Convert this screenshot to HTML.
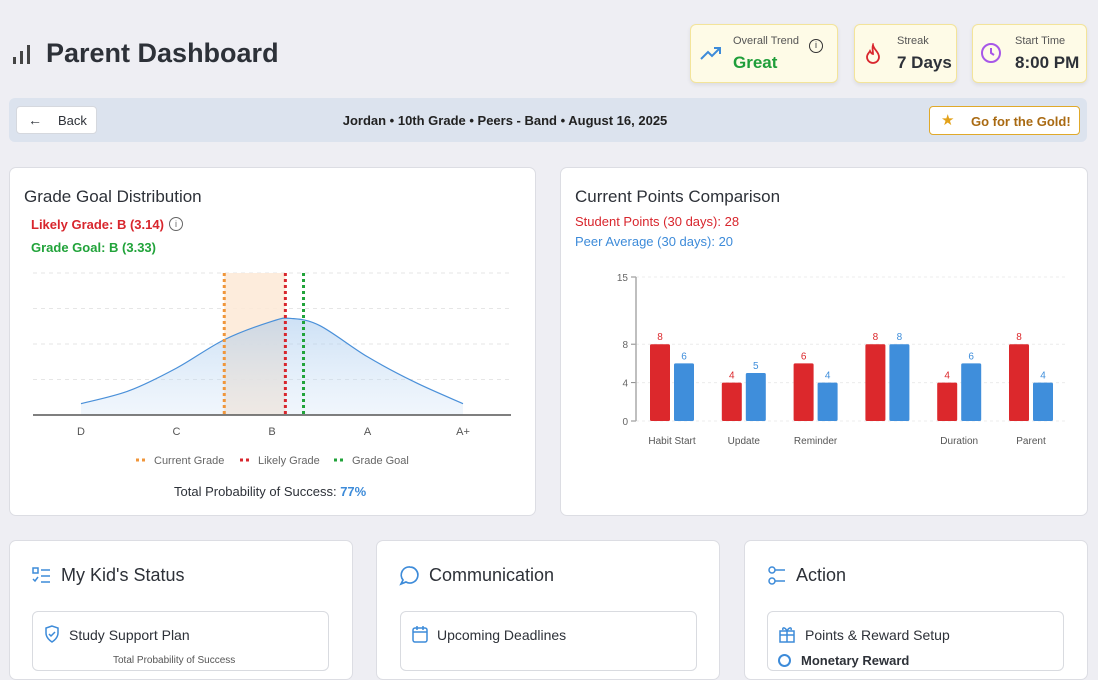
<!DOCTYPE html>
<html><head><meta charset="utf-8">
<style>
*{box-sizing:border-box;margin:0;padding:0}
body{width:1098px;height:661px;overflow:hidden;background:#eeeef3;font-family:"Liberation Sans",sans-serif;color:#2d3138;position:relative}
.abs{position:absolute}
.stat{position:absolute;top:24px;height:59px;background:#fefbe7;border:1px solid #f3e49a;border-radius:6px;box-shadow:0 2px 4px rgba(0,0,0,.08)}
.stat .lbl{position:absolute;font-size:11px;color:#555;top:10px}
.stat .val{position:absolute;font-size:17px;font-weight:bold;top:28px}
.card{position:absolute;background:#fff;border:1px solid #dcdde3;border-radius:7px}
.btn{position:absolute;background:#fff;border:1px solid #d5d8de;border-radius:4px;font-size:13px}
.h2{position:absolute;font-size:17px;color:#2d3138}
.h3{position:absolute;font-size:18px;color:#2d3138}
.inner{position:absolute;background:#fff;border:1px solid #d9dbe0;border-radius:6px;height:60px}
.h4{position:absolute;font-size:14px;color:#2d3138}
</style></head><body>
<div class="abs" style="left:13px;top:45px;width:20px;height:20px">
 <div class="abs" style="left:0;top:12px;width:3px;height:7px;background:#444"></div>
 <div class="abs" style="left:7px;top:6px;width:3px;height:13px;background:#444"></div>
 <div class="abs" style="left:14px;top:0;width:3px;height:19px;background:#444"></div>
</div>
<div class="abs" style="left:46px;top:38px;font-size:27px;font-weight:bold;color:#2d3138">Parent Dashboard</div>

<div class="stat" style="left:690px;width:148px">
 <svg class="abs" style="left:9px;top:20px" width="22" height="16" viewBox="0 0 22 16"><polyline points="1,14 8,7 12,11 20,3" fill="none" stroke="#3d8bd9" stroke-width="2"/><polyline points="14,3 20,3 20,9" fill="none" stroke="#3d8bd9" stroke-width="2"/></svg>
 <div class="lbl" style="left:42px">Overall Trend</div>
 <div class="val" style="left:42px;color:#1f9e3a">Great</div>
 <div class="abs" style="left:118px;top:14px;width:14px;height:14px;border:1.5px solid #333;border-radius:50%;font-size:9px;text-align:center;line-height:11px">i</div>
</div>
<div class="stat" style="left:854px;width:103px">
 <svg class="abs" style="left:9px;top:18px" width="18" height="22" viewBox="0 0 18 22"><path d="M9 2C10 7 15 9 15 14a6 6 0 0 1-12 0c0-3 2-4 3-6 1 2 2 3 3 3 0-3-1-6 0-9z" fill="none" stroke="#d9272e" stroke-width="1.8"/></svg>
 <div class="lbl" style="left:42px">Streak</div>
 <div class="val" style="left:42px">7 Days</div>
</div>
<div class="stat" style="left:972px;width:115px">
 <svg class="abs" style="left:7px;top:17px" width="22" height="22" viewBox="0 0 22 22"><circle cx="11" cy="11" r="9" fill="none" stroke="#a757e8" stroke-width="2"/><polyline points="11,6 11,11 14,13" fill="none" stroke="#a757e8" stroke-width="2"/></svg>
 <div class="lbl" style="left:42px">Start Time</div>
 <div class="val" style="left:42px">8:00 PM</div>
</div>

<div class="abs" style="left:9px;top:98px;width:1078px;height:44px;background:#dce3ee;border-radius:6px"></div>
<div class="btn" style="left:16px;top:106px;width:81px;height:28px"><span class="abs" style="left:11px;top:5px;font-size:14px">←</span><span class="abs" style="left:41px;top:6px">Back</span></div>
<div class="abs" style="left:0;width:1010px;top:113px;text-align:center;font-size:13px;font-weight:bold;color:#222">Jordan • 10th Grade • Peers - Band • August 16, 2025</div>
<div class="btn" style="left:929px;top:106px;width:151px;height:29px;border-color:#e0a92a;color:#a96a12"><span class="abs" style="left:11px;top:4px;color:#e3a21a;font-size:15px">★</span><span class="abs" style="left:41px;top:7px;font-weight:bold">Go for the Gold!</span></div>

<div class="card" style="left:9px;top:167px;width:527px;height:349px"></div>
<div class="h2" style="left:24px;top:187px">Grade Goal Distribution</div>
<div class="abs" style="left:31px;top:217px;font-size:13px;font-weight:bold;color:#d8262d">Likely Grade: B (3.14)</div>
<div class="abs" style="left:169px;top:217px;width:14px;height:14px;border:1px solid #666;border-radius:50%;font-size:9px;text-align:center;line-height:12px;color:#666">i</div>
<div class="abs" style="left:31px;top:240px;font-size:13px;font-weight:bold;color:#21a33a">Grade Goal: B (3.33)</div>
<svg class="abs" id="dist" style="left:0;top:0" width="540" height="520"></svg>
<div class="abs" style="left:174px;top:484px;font-size:13px;color:#2d3138">Total Probability of Success: <b style="color:#3d8bd9">77%</b></div>

<div class="card" style="left:560px;top:167px;width:528px;height:349px"></div>
<div class="h2" style="left:575px;top:187px">Current Points Comparison</div>
<div class="abs" style="left:575px;top:214px;font-size:13px;color:#d8262d">Student Points (30 days): 28</div>
<div class="abs" style="left:575px;top:234px;font-size:13px;color:#3d8bd9">Peer Average (30 days): 20</div>
<svg class="abs" id="bars" style="left:560px;top:260px" width="528" height="200"></svg>

<div class="card" style="left:9px;top:540px;width:344px;height:140px"></div>
<svg class="abs" style="left:32px;top:567px" width="20" height="18" viewBox="0 0 20 18"><rect x="1" y="1" width="5" height="5" fill="none" stroke="#3d8bd9" stroke-width="1.5"/><polyline points="1,12 3,14 6,10" fill="none" stroke="#3d8bd9" stroke-width="1.5"/><path d="M9 3h9M9 9h9M9 15h9" stroke="#3d8bd9" stroke-width="1.5"/></svg>
<div class="h3" style="left:61px;top:565px">My Kid's Status</div>
<div class="inner" style="left:32px;top:611px;width:297px"></div>
<svg class="abs" style="left:44px;top:625px" width="16" height="18" viewBox="0 0 16 18"><path d="M8 1L2 3v5c0 4 3 7 6 9 3-2 6-5 6-9V3z" fill="none" stroke="#3d8bd9" stroke-width="1.5"/><polyline points="5,9 7,11 11,7" fill="none" stroke="#3d8bd9" stroke-width="1.5"/></svg>
<div class="h4" style="left:69px;top:627px">Study Support Plan</div>
<div class="abs" style="left:113px;top:655px;font-size:10px;color:#555">Total Probability of Success</div>

<div class="card" style="left:376px;top:540px;width:344px;height:140px"></div>
<svg class="abs" style="left:399px;top:565px" width="22" height="22" viewBox="0 0 22 22"><path d="M11 2a8 8 0 1 1-4 15l-5 2 2-4a8 8 0 0 1 7-13z" fill="none" stroke="#3d8bd9" stroke-width="1.7"/></svg>
<div class="h3" style="left:429px;top:565px">Communication</div>
<div class="inner" style="left:400px;top:611px;width:297px"></div>
<svg class="abs" style="left:412px;top:625px" width="16" height="18" viewBox="0 0 16 18"><rect x="1" y="3" width="14" height="14" rx="2" fill="none" stroke="#3d8bd9" stroke-width="1.5"/><path d="M1 7h14M5 1v4M11 1v4" stroke="#3d8bd9" stroke-width="1.5"/></svg>
<div class="h4" style="left:437px;top:627px">Upcoming Deadlines</div>

<div class="card" style="left:744px;top:540px;width:344px;height:140px"></div>
<svg class="abs" style="left:767px;top:566px" width="20" height="20" viewBox="0 0 20 20"><circle cx="5" cy="4" r="3" fill="none" stroke="#3d8bd9" stroke-width="1.5"/><circle cx="5" cy="15" r="3" fill="none" stroke="#3d8bd9" stroke-width="1.5"/><path d="M8 4h10M8 15h10" stroke="#3d8bd9" stroke-width="1.5"/></svg>
<div class="h3" style="left:796px;top:565px">Action</div>
<div class="inner" style="left:767px;top:611px;width:297px"></div>
<svg class="abs" style="left:779px;top:625px" width="16" height="18" viewBox="0 0 16 18"><rect x="1" y="6" width="14" height="11" fill="none" stroke="#3d8bd9" stroke-width="1.5"/><path d="M8 6v11M1 10h14M8 6C6 2 3 2 4 5M8 6c2-4 5-4 4-1" fill="none" stroke="#3d8bd9" stroke-width="1.5"/></svg>
<div class="h4" style="left:805px;top:627px">Points &amp; Reward Setup</div>
<div class="abs" style="left:778px;top:654px;width:13px;height:13px;border:2px solid #3d8bd9;border-radius:50%"></div>
<div class="abs" style="left:801px;top:653px;font-size:13px;font-weight:bold">Monetary Reward</div>

<script>
const NS='http://www.w3.org/2000/svg';
function mk(p,t,a){const e=document.createElementNS(NS,t);for(const k in a)e.setAttribute(k,a[k]);p.appendChild(e);return e;}
// distribution chart data
const gradeLabels=['D','C','B','A','A+'];
const gradeValues=[1,2,3,4,5];
const curveX=[1,1.5,2,2.5,3,3.2,3.5,4,4.5,5];
const curveY=[0.08,0.17,0.33,0.53,0.66,0.68,0.63,0.41,0.23,0.08];
const currentGrade=2.5, likelyGrade=3.14, goalGrade=3.33;
const gx=g=>81+(g-1)*95.5;
const gy=v=>415-v*142;
const d=document.getElementById('dist');
[0.25,0.5,0.75,1].forEach(v=>{const l=mk(d,'line',{x1:33,x2:511,y1:gy(v),y2:gy(v),stroke:'#e6e6e6','stroke-dasharray':'4 4'});

});
const band=mk(d,'rect',{x:gx(currentGrade),y:gy(1),width:gx(likelyGrade)-gx(currentGrade),height:gy(0)-gy(1),fill:'#fde9d6',opacity:0.85});


const defs=mk(d,'defs',{});const lg=mk(defs,'linearGradient',{id:'gf',x1:0,y1:0,x2:0,y2:1});
mk(lg,'stop',{offset:0,'stop-color':'#9cc3ec','stop-opacity':0.5});mk(lg,'stop',{offset:1,'stop-color':'#cfe2f6','stop-opacity':0.3});
const P=curveX.map((x,i)=>[gx(x),gy(curveY[i])]);
let path='M'+P[0][0]+','+P[0][1];
for(let i=0;i<P.length-1;i++){const p0=P[i-1]||P[i],p1=P[i],p2=P[i+1],p3=P[i+2]||P[i+1];
path+=' C'+(p1[0]+(p2[0]-p0[0])/6)+','+(p1[1]+(p2[1]-p0[1])/6)+' '+(p2[0]-(p3[0]-p1[0])/6)+','+(p2[1]-(p3[1]-p1[1])/6)+' '+p2[0]+','+p2[1];}
const area=mk(d,'path',{d:path+' L'+P[P.length-1][0]+','+gy(0)+' L'+P[0][0]+','+gy(0)+'Z',fill:'url(#gf)'});


const line=mk(d,'path',{d:path,fill:'none',stroke:'#4a90d9','stroke-width':1.2});


[[currentGrade,'#f0963a','current-grade-line'],[likelyGrade,'#d8262d','likely-grade-line'],[goalGrade,'#21a33a','grade-goal-line']].forEach(([g,c,n])=>{
const l=mk(d,'line',{x1:gx(g),x2:gx(g),y1:gy(1),y2:gy(0),stroke:c,'stroke-width':3,'stroke-dasharray':'3 3'});

});
mk(d,'line',{x1:33,x2:511,y1:415,y2:415,stroke:'#555','stroke-width':1.5});
gradeLabels.forEach((t,i)=>{const e=mk(d,'text',{x:gx(gradeValues[i]),y:435,'text-anchor':'middle','font-size':11,fill:'#555'});e.textContent=t;

});
[['Current Grade','#f0963a',136],['Likely Grade','#d8262d',240],['Grade Goal','#21a33a',334]].forEach(([t,c,x])=>{
const g=mk(d,'g',{});


mk(g,'line',{x1:x,x2:x+9,y1:460,y2:460,stroke:c,'stroke-width':3,'stroke-dasharray':'3 3'});
const e=mk(g,'text',{x:x+18,y:464,'font-size':11,fill:'#666'});e.textContent=t;});

// bar chart data
const categories=['Habit Start','Update','Reminder','','Duration','Parent'];
const studentPoints=[8,4,6,8,4,8];
const peerPoints=[6,5,4,8,6,4];
const yTicks=[0,4,8,15];
const b=document.getElementById('bars');
const ox=560,oy=260;
const by=v=>(421-oy)-v*9.6;
const cx=i=>(672-ox)+i*71.8;
yTicks.forEach(v=>{mk(b,'line',{x1:76,x2:506,y1:by(v),y2:by(v),stroke:'#ececec','stroke-dasharray':'3 3'});
mk(b,'line',{x1:71,x2:76,y1:by(v),y2:by(v),stroke:'#888'});
const t=mk(b,'text',{x:68,y:by(v)+4,'text-anchor':'end','font-size':10,fill:'#666'});t.textContent=v;

});
mk(b,'line',{x1:76,x2:76,y1:by(15),y2:by(0),stroke:'#aaa','stroke-width':1.5});
categories.forEach((c,i)=>{
[[studentPoints[i],-22,'#dc282c','student-bar'],[peerPoints[i],2,'#3f8edb','peer-bar']].forEach(([v,off,col,n])=>{
const r=mk(b,'rect',{x:cx(i)+off,y:by(v),width:20,height:by(0)-by(v),fill:col,rx:1.5});


const t=mk(b,'text',{x:cx(i)+off+10,y:by(v)-4,'text-anchor':'middle','font-size':10,fill:col});t.textContent=v;

});
const t=mk(b,'text',{x:cx(i),y:(444-oy),'text-anchor':'middle','font-size':10,fill:'#555'});t.textContent=c;

});
</script>
</body></html>
